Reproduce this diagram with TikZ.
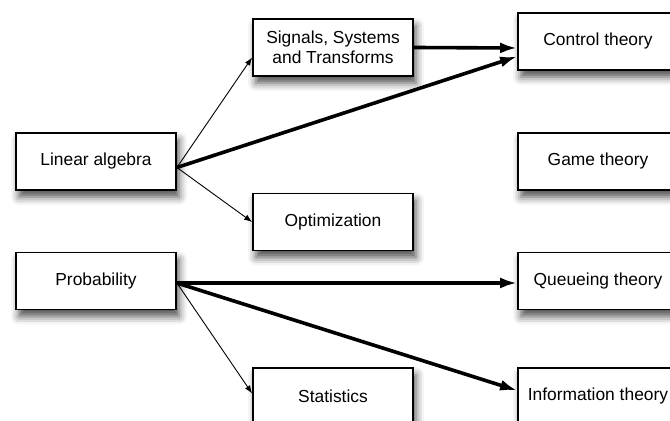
\documentclass[tikz,border=0pt]{standalone}
\usepackage{fontspec}
\setmainfont{Liberation Sans}
\usepackage{tikz}
\usetikzlibrary{arrows.meta, shadows.blur, positioning, calc}
\tikzset{
  subject/.style = {rectangle, draw=black, line width=0.9pt, fill=white, align=center, inner sep=0pt,
    minimum width=80pt, minimum height=28.5pt, font=\fontsize{8.7}{10.2}\selectfont,
    blur shadow={shadow xshift=1.5pt, shadow yshift=-3.5pt, shadow blur radius=4pt, shadow opacity=70}},
  weak/.style = {-{Latex[length=4pt,width=3pt]}, line width=0.45pt},
  strong/.style = {-{Latex[length=8.5pt,width=5.5pt]}, line width=1.8pt}
}

\begin{document}
\begin{tikzpicture}[x=0.5pt, y=-0.5pt]
  \useasboundingbox (0,0) rectangle (670,421);
  % left column
  \node [subject] (lin)  at (96,161.5) {Linear algebra};
  \node [subject] (prob) at (96,281)   {Probability};
  % middle column
  \node [subject] (sig)  at (333,47.5)  {Signals, Systems\\and Transforms};
  \node [subject] (opt)  at (333,222)   {Optimization};
  \node [subject] (stat) at (333,396.5) {Statistics};
  % right column
  \node [subject] (ctrl)  at (598,41.5)  {Control theory};
  \node [subject] (game)  at (598,161.5) {Game theory};
  \node [subject] (queue) at (598,281)   {Queueing theory};
  \node [subject] (info)  at (598,396.5) {Information theory};

  \draw [weak]   ([yshift=-3pt]lin.east) -- ([yshift=-5pt]sig.west);
  \draw [weak]   ([yshift=-3pt]lin.east) -- (opt.west);
  \draw [strong] ([yshift=-3pt]lin.east) -- ([yshift=-7.5pt]ctrl.west);
  \draw [strong] (sig.east) -- ([yshift=-3.25pt]ctrl.west);
  \draw [strong] ([yshift=-1pt]prob.east) -- ([yshift=-1pt]queue.west);
  \draw [strong] ([yshift=-1pt]prob.east) -- ([yshift=3pt]info.west);
  \draw [weak]   ([yshift=-1pt]prob.east) -- ([yshift=1.5pt]stat.west);
\end{tikzpicture}
\end{document}
